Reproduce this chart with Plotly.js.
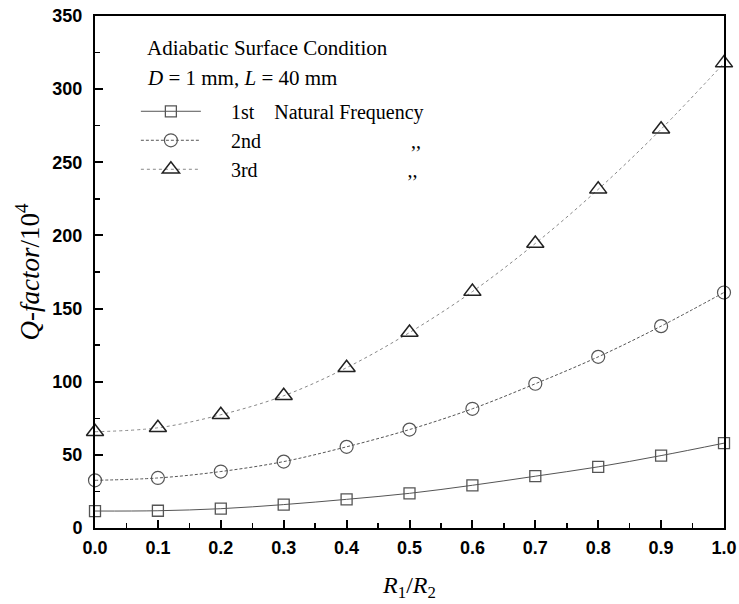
<!DOCTYPE html>
<html><head><meta charset="utf-8">
<script src="https://cdn.plot.ly/plotly-3.0.1.min.js"></script>
<style>html,body{margin:0;padding:0;background:#fff}</style>
</head><body>
<div id="chart" style="width:739px;height:604px"></div>
<script>
var ratio = [0.0,0.1,0.2,0.3,0.4,0.5,0.6,0.7,0.8,0.9,1.0];
var q1st = [11.6,11.8,13.2,16.0,19.6,23.7,29.2,35.4,41.8,49.5,58.0];
var q2nd = [32.6,34.2,38.6,45.4,55.5,67.3,81.5,98.6,117.0,138.0,161.0];
var q3rd = [65.8,68.5,77.4,90.4,109.6,133.6,161.6,194.5,231.5,272.6,317.8];
function sp(n){ return Array(n + 1).join('\u00A0'); }
var names = [sp(5) + "1st" + sp(4) + "Natural Frequency",
             sp(5) + "2nd" + sp(30) + ",,",
             sp(5) + "3rd" + sp(30) + ",,"];

var traces = [
  {x: ratio, y: q1st, name: names[0], mode: 'lines+markers', cliponaxis: false,
   line: {color: '#555', width: 1, dash: 'solid', shape: 'spline'},
   marker: {symbol: 'square-open', size: 11, color: '#555', line: {width: 1.3}}},
  {x: ratio, y: q2nd, name: names[1], mode: 'lines+markers', cliponaxis: false,
   line: {color: '#555', width: 1, dash: '3px,2px', shape: 'spline'},
   marker: {symbol: 'circle-open', size: 13, color: '#555', line: {width: 1.2}}},
  {x: ratio, y: q3rd, name: names[2], mode: 'lines+markers', cliponaxis: false,
   line: {color: '#888', width: 1, dash: 'dot', shape: 'spline'},
   marker: {symbol: 'triangle-up-open', size: 15, color: '#222', line: {width: 1.5}}}
];

var serif = 'Liberation Serif, Times New Roman, serif';
var tickFont = {family: 'Liberation Sans, Arial, sans-serif', size: 18, color: '#000', weight: 'bold'};
var layout = {
  width: 739, height: 604,
  margin: {l: 95, r: 15, t: 16, b: 76},
  paper_bgcolor: '#fff', plot_bgcolor: '#fff',
  showlegend: true,
  legend: {x: 0.065, y: 0.852, xanchor: 'left', yanchor: 'top', bgcolor: 'rgba(0,0,0,0)',
           font: {family: serif, size: 20, color: '#000'},
           itemwidth: 60, tracegroupgap: 0},
  xaxis: {range: [0, 1.0], dtick: 0.1, tickformat: '.1f', showgrid: false, zeroline: false,
          showline: true, linecolor: '#000', linewidth: 2, mirror: true,
          ticks: 'inside', ticklen: 8, tickwidth: 2, tickcolor: '#000',
          minor: {dtick: 0.05, ticks: 'inside', ticklen: 5, tickwidth: 1.5, tickcolor: '#000', showgrid: false},
          tickfont: tickFont, ticklabelstandoff: 2,
          title: {text: '<i>R</i><sub>1</sub>/<i>R</i><sub>2</sub>', standoff: 20,
                  font: {family: serif, size: 24, color: '#000'}}},
  yaxis: {range: [0, 350], dtick: 50, showgrid: false, zeroline: false,
          showline: true, linecolor: '#000', linewidth: 2, mirror: true,
          ticks: 'inside', ticklen: 8, tickwidth: 2, tickcolor: '#000',
          minor: {dtick: 25, ticks: 'inside', ticklen: 5, tickwidth: 1.5, tickcolor: '#000', showgrid: false},
          tickfont: tickFont, ticklabelstandoff: 7,
          title: {text: '<i>Q-factor</i>/10<sup>4</sup>', standoff: 5,
                  font: {family: serif, size: 27, color: '#000'}}},
  annotations: [
    {xref: 'paper', yref: 'paper', x: 0.08, y: 0.9375, xanchor: 'left', yanchor: 'middle', showarrow: false,
     text: 'Adiabatic Surface Condition',
     font: {family: serif, size: 21, color: '#000'}},
    {xref: 'paper', yref: 'paper', x: 0.08, y: 0.879, xanchor: 'left', yanchor: 'middle', showarrow: false,
     text: '<i>D</i> = 1 mm, <i>L</i> = 40 mm',
     font: {family: serif, size: 21, color: '#000'}}
  ]
};
Plotly.newPlot('chart', traces, layout, {displayModeBar: false, staticPlot: true});
</script>
</body></html>
